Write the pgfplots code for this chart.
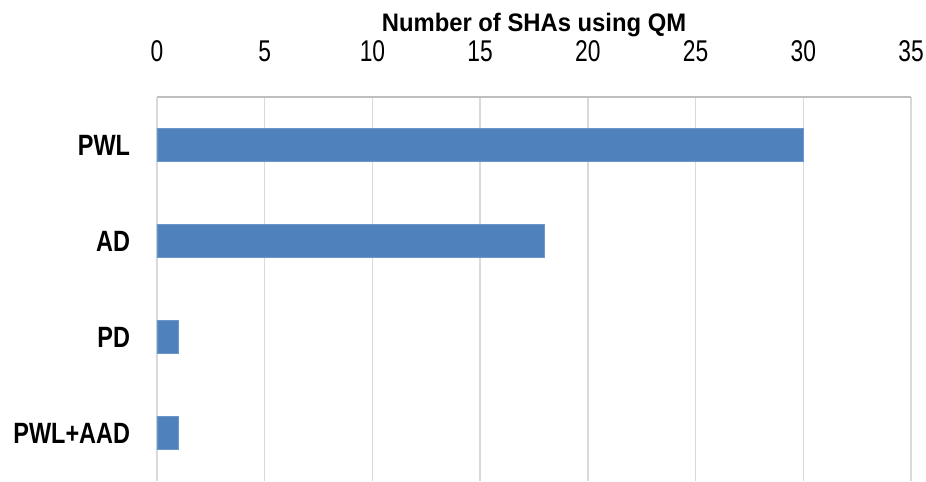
\documentclass[border=0pt]{standalone}
\usepackage{fontspec}
\setmainfont{Liberation Sans}
\newfontfamily\narrowfont{Liberation Sans}[FakeStretch=0.8]
\newfontfamily\ticknarrow{Liberation Sans}[FakeStretch=0.76]
\newfontfamily\titlefont{Liberation Sans}[FakeStretch=0.94]
\usepackage{pgfplots}
\pgfplotsset{compat=1.18}

\definecolor{barblue}{HTML}{4F81BD}
\definecolor{baredge}{HTML}{6A96CC}
\definecolor{gridgray}{HTML}{D9D9D9}
\definecolor{axisgray}{HTML}{BFBFBF}

\begin{document}
\begin{tikzpicture}
  \begin{axis}[
      xbar,
      scale only axis,
      width=565.5pt, height=288pt,
      xmin=0, xmax=35,
      ymin=-0.5, ymax=3.5,
      y dir=reverse,
      bar width=0.35,
      xtick={0,5,...,35},
      ytick={0,1,2,3},
      yticklabels={PWL,AD,PD,PWL+AAD},
      axis x line*=top,
      axis y line*=left,
      x axis line style={draw=axisgray, line width=1.5pt},
      y axis line style={draw=gridgray, line width=1.2pt},
      major tick length=0pt,
      xmajorgrids,
      grid style={draw=gridgray, line width=1.1pt},
      xticklabel pos=upper,
      xticklabel style={font=\ticknarrow\fontsize{22.5}{26}\selectfont,
        anchor=base, inner sep=0pt, yshift=27pt},
      yticklabel style={font=\narrowfont\bfseries\fontsize{22}{26}\selectfont,
        anchor=east, inner sep=0pt, xshift=-20pt},
      xlabel={Number of SHAs using QM},
      xlabel style={at={(axis description cs:0.5,1)}, anchor=base,
        inner sep=0pt, yshift=49pt,
        font=\titlefont\bfseries\fontsize{19}{22}\selectfont},
      /pgf/number format/assume math mode=true,
    ]
    \addplot[fill=barblue, draw=baredge, line width=0.6pt]
      coordinates {(30,0) (18,1) (1,2) (1,3)};
  \end{axis}
  \pgfresetboundingbox
  \path ([xshift=-117.75pt]current axis.south west)
    rectangle ([xshift=11.25pt,yshift=72.75pt]current axis.north east);
\end{tikzpicture}
\end{document}
